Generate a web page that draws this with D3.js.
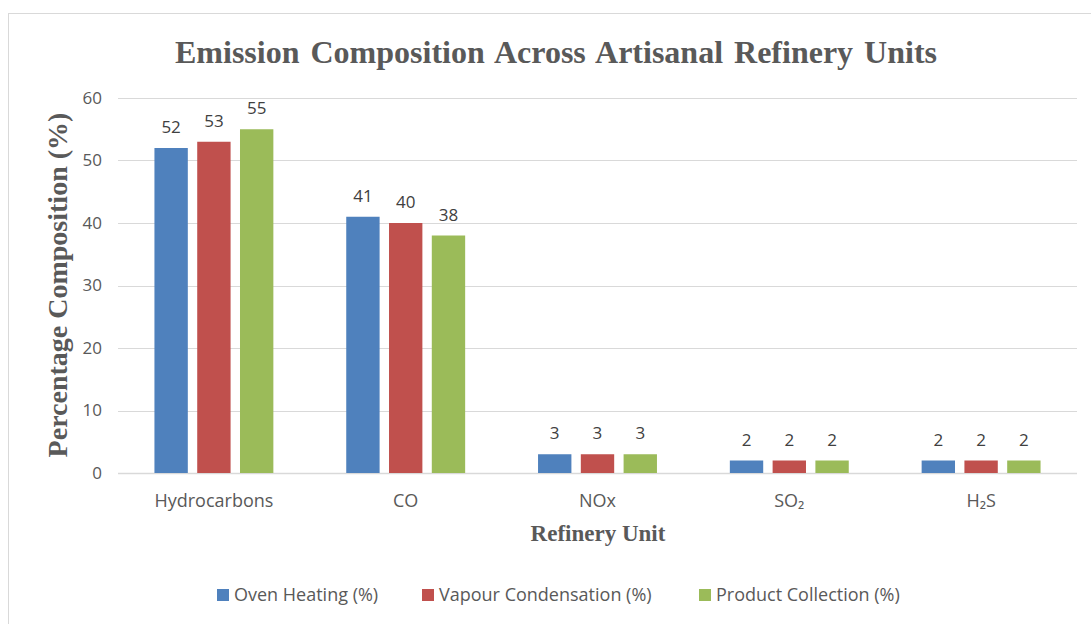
<!DOCTYPE html>
<html>
<head>
<meta charset="utf-8">
<script src="https://cdn.jsdelivr.net/npm/d3@7"></script>
<style>
  body { margin: 0; background: #fff; }
  svg { display: block; }
</style>
</head>
<body>
<svg id="chart" width="1091" height="624"></svg>
<script>
// data
var units = ["Hydrocarbons", "CO", "NOx", "SO\u2082", "H\u2082S"];
var seriesNames = ["Oven Heating (%)", "Vapour Condensation (%)", "Product Collection (%)"];
var ovenHeating = [52, 41, 3, 2, 2];
var vapourCondensation = [53, 40, 3, 2, 2];
var productCollection = [55, 38, 3, 2, 2];
var yTicks = [0, 10, 20, 30, 40, 50, 60];
var colors = ["#4F81BD", "#C0504D", "#9BBB59"];

var seriesValues = [ovenHeating, vapourCondensation, productCollection];

var svg = d3.select("#chart"),
    margin = {top: 98, right: 14, bottom: 151, left: 118},
    width = +svg.attr("width") - margin.left - margin.right,
    height = +svg.attr("height") - margin.top - margin.bottom;

var labelFont = "'Open Sans', 'Noto Sans', sans-serif";
var serif = "'Liberation Serif', 'Times New Roman', serif";

// outer frame of the chart area
svg.append("rect")
  .attr("x", 8.5).attr("y", 13.5)
  .attr("width", 1100).attr("height", 700)
  .attr("fill", "none")
  .attr("stroke", "#d9d9d9")
  .attr("stroke-width", 1);

var g = svg.append("g")
  .attr("transform", "translate(" + margin.left + "," + margin.top + ")");

var x0 = d3.scaleBand().domain(units).range([0, width]);
var x1 = d3.scaleBand().domain(d3.range(3)).range([0, x0.bandwidth() * 0.62]).paddingInner(0.22);
var y = d3.scaleLinear().domain([0, 60]).range([height, 0]);

// gridlines
g.append("g")
  .selectAll("line")
  .data(yTicks)
  .enter().append("line")
    .attr("x1", 0).attr("x2", width)
    .attr("y1", function(d) { return Math.round(y(d)) + 0.5; })
    .attr("y2", function(d) { return Math.round(y(d)) + 0.5; })
    .attr("stroke", "#d9d9d9")
    .attr("stroke-width", function(d) { return d === 0 ? 1.5 : 1; });

// y axis labels
var yAxis = g.append("g")
  .call(d3.axisLeft(y).tickValues(yTicks).tickSize(0).tickPadding(16));
yAxis.select(".domain").remove();
yAxis.selectAll("text")
  .attr("font-family", labelFont)
  .attr("font-size", 17)
  .attr("fill", "#595959");

// x axis labels
var xAxis = g.append("g")
  .attr("transform", "translate(0," + height + ")")
  .call(d3.axisBottom(x0).tickSize(0).tickPadding(21));
xAxis.select(".domain").remove();
xAxis.selectAll("text")
  .attr("font-family", labelFont)
  .attr("font-size", 18)
  .attr("fill", "#595959");

// bars
var groups = g.selectAll(".unit")
  .data(units)
  .enter().append("g")
    .attr("class", "unit")
    .attr("transform", function(d) {
      return "translate(" + (x0(d) + x0.bandwidth() * 0.19) + ",0)";
    });

groups.selectAll("rect")
  .data(function(d, i) { return seriesValues.map(function(s, k) { return {k: k, v: s[i]}; }); })
  .enter().append("rect")
    .attr("x", function(d) { return x1(d.k); })
    .attr("y", function(d) { return y(d.v); })
    .attr("width", x1.bandwidth())
    .attr("height", function(d) { return height - y(d.v); })
    .attr("fill", function(d) { return colors[d.k]; });

groups.selectAll(".val")
  .data(function(d, i) { return seriesValues.map(function(s, k) { return {k: k, v: s[i]}; }); })
  .enter().append("text")
    .attr("class", "val")
    .attr("x", function(d) { return x1(d.k) + x1.bandwidth() / 2; })
    .attr("y", function(d) { return y(d.v) - 15; })
    .attr("text-anchor", "middle")
    .attr("font-family", labelFont)
    .attr("font-size", 17)
    .attr("fill", "#404040")
    .text(function(d) { return d.v; });

// titles
svg.append("text")
  .attr("x", 556).attr("y", 63)
  .attr("text-anchor", "middle")
  .attr("font-family", serif)
  .attr("font-weight", "bold")
  .attr("font-size", 32)
  .attr("fill", "#595959")
  .attr("word-spacing", 3)
  .text("Emission Composition Across Artisanal Refinery Units");

svg.append("text")
  .attr("x", 598).attr("y", 541)
  .attr("text-anchor", "middle")
  .attr("font-family", serif)
  .attr("font-weight", "bold")
  .attr("font-size", 23)
  .attr("fill", "#595959")
  .text("Refinery Unit");

svg.append("text")
  .attr("transform", "translate(67,285) rotate(-90)")
  .attr("text-anchor", "middle")
  .attr("font-family", serif)
  .attr("font-weight", "bold")
  .attr("font-size", 28)
  .attr("fill", "#595959")
  .text("Percentage Composition (%)");

// legend
var legendX = [217, 422, 699];
var legend = svg.append("g").selectAll("g")
  .data(seriesNames)
  .enter().append("g")
    .attr("transform", function(d, i) { return "translate(" + legendX[i] + ",589)"; });

legend.append("rect")
  .attr("width", 12).attr("height", 12)
  .attr("fill", function(d, i) { return colors[i]; });

legend.append("text")
  .attr("x", 17).attr("y", 12)
  .attr("font-family", labelFont)
  .attr("font-size", 18)
  .attr("fill", "#595959")
  .text(function(d) { return d; });
</script>
</body>
</html>
